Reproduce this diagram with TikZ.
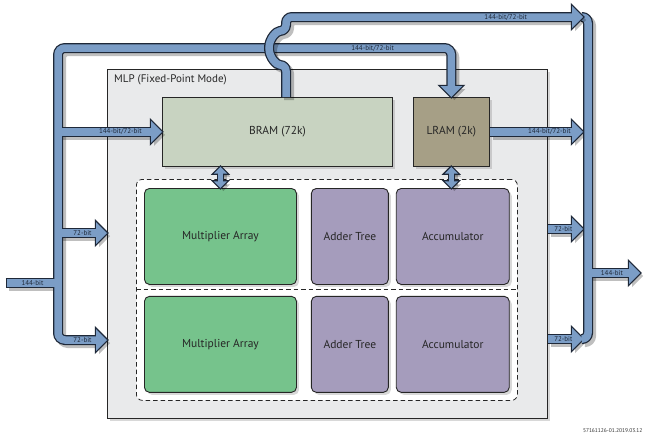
\documentclass[tikz,border=0pt]{standalone}
\usepackage{fontspec}
\setmainfont{PT Sans}
\usepackage{tikz}
\usetikzlibrary{positioning}
\usetikzlibrary{shadows}

\definecolor{mlpgray}{HTML}{E9EAEB}
\definecolor{bramgreen}{HTML}{C8D3C1}
\definecolor{lramtan}{HTML}{A69F86}
\definecolor{multgreen}{HTML}{76C38C}
\definecolor{addpurple}{HTML}{A59CBC}
\definecolor{busblue}{HTML}{7B9DC6}
\definecolor{busdark}{HTML}{1E2838}

\tikzset{
	block/.style={draw=black!85, line width=0.9pt, text=black!85, font=\fontsize{11.5}{13}\selectfont, drop shadow={opacity=.3, shadow xshift=2.5pt, shadow yshift=-2.5pt}},
	unit/.style={block, rounded corners=5pt, minimum height=96pt},
	divider/.style={draw=black!85, line width=0.8pt, dash pattern=on 4.5pt off 3pt},
	buslabel/.style={inner sep=0pt, text=busdark, font=\fontsize{7}{8}\selectfont},
	bushead/.pic={\path [head, sharp corners, shorten <=0pt, shorten >=0pt] (0,0) -- (-11,11) -- (-11,-11) -- cycle;},
	shadow pass/.style={transform canvas={shift={(3pt,-3pt)}}, bus/.style={draw=black, opacity=.25, line width=10pt}, link/.style={draw=black, opacity=.25, line width=7pt}, head/.style={fill=black, opacity=.25}, stub/.style={shorten <=-1.25pt}},
	outline pass/.style={bus/.style={draw=busdark, line width=10pt}, link/.style={draw=busdark, line width=7pt}, head/.style={fill=busdark, draw=busdark, line width=2.5pt, line join=miter}, stub/.style={shorten <=-1.25pt}},
	fill pass/.style={bus/.style={draw=busblue, line width=7.5pt}, link/.style={draw=busblue, line width=4.5pt}, head/.style={fill=busblue}, stub/.style={}},
}

% bus labels only show up in the last pass
\newcommand{\bustext}[1]{#1}
\newcommand{\buspasses}[1]{%
	\begin{scope}[shadow pass]\renewcommand{\bustext}[1]{}#1\end{scope}
	\begin{scope}[outline pass]\renewcommand{\bustext}[1]{}#1\end{scope}
	\begin{scope}[fill pass]#1\end{scope}}

\begin{document}
\begin{tikzpicture}[x=1pt, y=-1pt]

		\path [use as bounding box, fill=white] (0,0) rectangle (659,434);

		% MLP frame
		\node (mlp) [block, fill=mlpgray, minimum width=440pt, minimum height=349pt, anchor=north west] at (107,69) {};
		\node (title) [below right = 5pt and 7pt of mlp.north west, inner sep=0pt, text=black!85, font=\fontsize{11}{13}\selectfont] {MLP (Fixed-Point Mode)};

		% memories
		\node (bram) [block, fill=bramgreen, minimum width=230pt, minimum height=69pt, below right = 28pt and 55pt of mlp.north west] {BRAM (72k)};
		\node (lram) [block, fill=lramtan, minimum width=76pt, minimum height=69pt, right = 20pt of bram] {LRAM (2k)};

		% two rows of multiplier, adder tree, accumulator
		\node (dash) [divider, fill=white, rounded corners=6pt, minimum width=381pt, minimum height=221pt, anchor=north west] at (136,179) {};
		\node (mult1) [unit, fill=multgreen, minimum width=152pt, below right = 9pt and 8pt of dash.north west] {Multiplier Array};
		\node (adder1) [unit, fill=addpurple, minimum width=77pt, right = 14pt of mult1] {Adder Tree};
		\node (acc1) [unit, fill=addpurple, minimum width=113pt, right = 7pt of adder1] {Accumulator};
		\node (mult2) [unit, fill=multgreen, minimum width=152pt, below = 11pt of mult1] {Multiplier Array};
		\node (adder2) [unit, fill=addpurple, minimum width=77pt, below = 11pt of adder1] {Adder Tree};
		\node (acc2) [unit, fill=addpurple, minimum width=113pt, below = 11pt of acc1] {Accumulator};
		\draw [divider] (dash.west |- 0,289.5) -- (dash.east |- 0,289.5);

		% bus corners and ends
		\coordinate (lbusT) at (58,48);
		\coordinate (lbusB) at (58,340);
		\coordinate (l72) at (58,233);
		\coordinate (in) at (7,283);
		\coordinate (hop) at (286,48);
		\coordinate (redge) at (583,17);
		\coordinate (rbusT) at (588,17);
		\coordinate (rbusB) at (588,339);
		\coordinate (r72a) at (583,229);
		\coordinate (r72b) at (583,339);
		\coordinate (out) at (640,273);

		\buspasses{
		% input bus
		\draw [bus, rounded corners=7pt, shorten <=9pt, shorten >=9pt] (lbusB -| mlp.west) pic {bushead} -- node [buslabel] {\bustext{72-bit}} (lbusB) -- (lbusT) -| node [buslabel, pos=0.4] {\bustext{144-bit/72-bit}} (lram.north) pic [rotate=-90] {bushead};
		\draw [bus, stub] (in) -- node [buslabel] {\bustext{144-bit}} (in -| lbusT);
		\draw [bus, shorten >=9pt] (l72) -- node [buslabel] {\bustext{72-bit}} (l72 -| mlp.west) pic {bushead};
		\draw [bus, shorten >=9pt] (bram.west -| lbusT) -- node [buslabel, pos=0.6] {\bustext{144-bit/72-bit}} (bram.west) pic {bushead};

		% output bus
		\draw [bus, rounded corners=6pt] (redge) -- (rbusT) -- (rbusB) -- (r72b);
		\draw [bus, shorten >=9pt] (lram.east) -- node [buslabel, pos=0.64] {\bustext{144-bit/72-bit}} (lram.east -| redge) pic {bushead};
		\draw [bus, shorten >=9pt] (r72a -| mlp.east) -- node [buslabel, pos=0.44] {\bustext{72-bit}} (r72a) pic {bushead};
		\draw [bus, shorten >=9pt] (r72b -| mlp.east) -- node [buslabel, pos=0.44] {\bustext{72-bit}} (r72b) pic {bushead};
		\draw [bus, shorten >=9pt] (out -| rbusT) -- node [buslabel, pos=0.46] {\bustext{144-bit}} (out) pic {bushead};

		% memory ports
		\draw [link, shorten <=5pt, shorten >=5pt] (bram.south -| mult1) pic [rotate=90, scale=.6] {bushead} -- (mult1.north) pic [rotate=-90, scale=.6] {bushead};
		\draw [link, shorten <=5pt, shorten >=5pt] (lram.south) pic [rotate=90, scale=.6] {bushead} -- (lram.south |- acc1.north) pic [rotate=-90, scale=.6] {bushead};
		}

		% BRAM output hops over the input bus
		\buspasses{
		\draw [bus, rounded corners=6pt, shorten >=9pt] (bram.north -| hop) -- ([yshift=-17pt]hop) arc [start angle=90, end angle=270, radius=17] -- (hop |- redge) -- node [buslabel, pos=0.74] {\bustext{144-bit/72-bit}} (redge) pic {bushead};
		}

		\node (figid) [anchor=base east, text=black!80, font=\fontsize{5.5}{6}\selectfont] at (646,432) {57161126-01.2019.03.12};

\end{tikzpicture}
\end{document}
